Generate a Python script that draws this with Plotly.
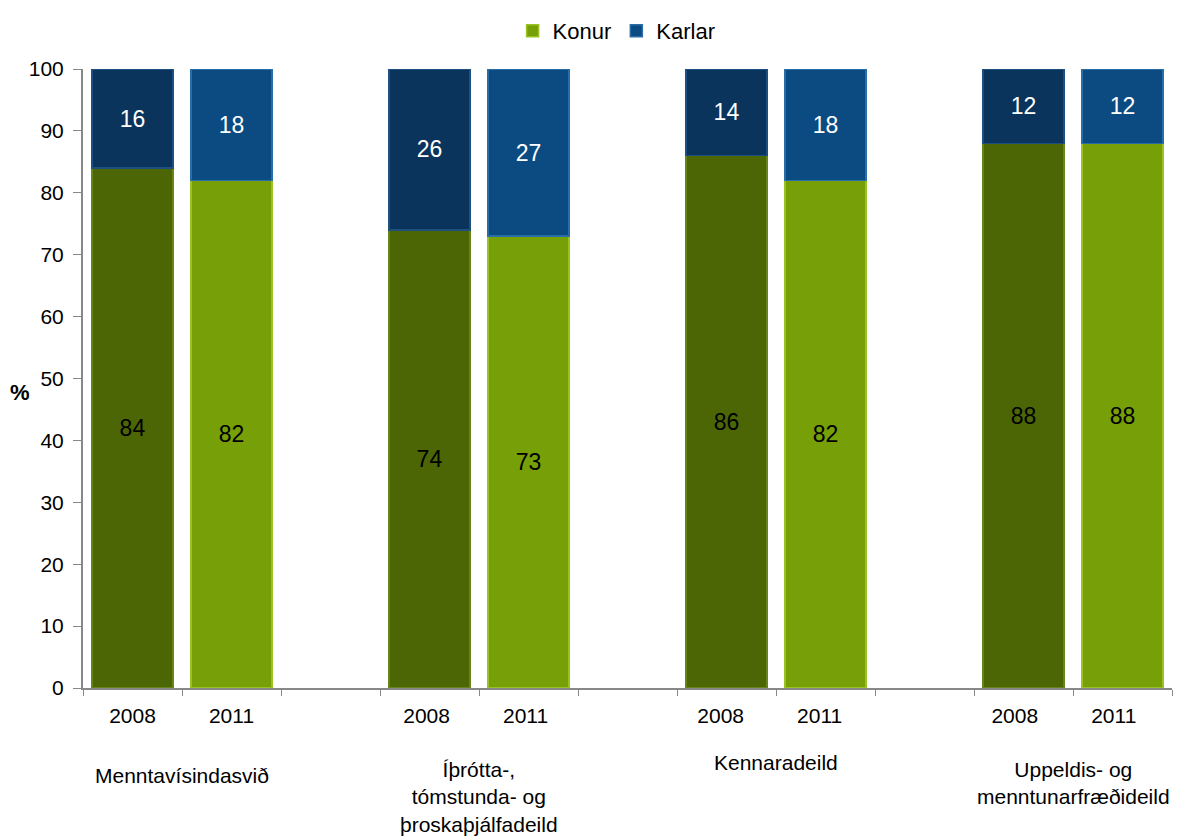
import plotly.graph_objects as go

groups = ["Menntavísindasvið", "Íþrótta-,<br>tómstunda- og<br>þroskaþjálfadeild",
          "Kennaradeild", "Uppeldis- og<br>menntunarfræðideild"]
years = ["2008", "2011"]
konur_2008 = [84, 74, 86, 88]
konur_2011 = [82, 73, 82, 88]
karlar_2008 = [16, 26, 14, 12]
karlar_2011 = [18, 27, 18, 12]
y_ticks = [0, 10, 20, 30, 40, 50, 60, 70, 80, 90, 100]

FONT = "Liberation Sans Narrow, Arial Narrow, Liberation Sans, Arial, sans-serif"

# Build categories: per group, two year bars then a blank gap (except after last)
categories = []
x08, x11 = [], []
for gi, g in enumerate(groups):
    c08 = years[0] + " " * gi
    c11 = years[1] + " " * gi
    categories += [c08, c11]
    x08.append(c08)
    x11.append(c11)
    if gi < len(groups) - 1:
        categories.append("\u00a0" * (gi + 1))

col = {
    ("K", 0): "#4c6606", ("K", 1): "#779f07",
    ("M", 0): "#0a345c", ("M", 1): "#0b4b82",
}
line_col = {
    ("K", 0): "#65841a", ("K", 1): "#98c322",
    ("M", 0): "#1d4f80", ("M", 1): "#2a6ea9",
}

fig = go.Figure()

def add(xs, ys, key, name, show, txtcol):
    fig.add_trace(go.Bar(
        x=xs, y=ys, name=name, showlegend=show, legendgroup=name,
        marker=dict(color=col[key], line=dict(color=line_col[key], width=1.5)),
        text=ys, texttemplate="%{y}", textposition="inside",
        insidetextanchor="middle",
        textfont=dict(family=FONT, size=23, color=txtcol),
        constraintext="none",
    ))

add(x08, konur_2008, ("K", 0), "Konur", False, "black")
add(x11, konur_2011, ("K", 1), "Konur", True, "black")
add(x08, karlar_2008, ("M", 0), "Karlar", False, "white")
add(x11, karlar_2011, ("M", 1), "Karlar", True, "white")

L, R, T, B = 83, 8, 69, 152
W, H = 1180, 840
plot_w = W - L - R

annotations = []
label_y = [775, 797, 763, 783]  # pixel centers
for gi, g in enumerate(groups):
    xpos = gi * 3 + 0.5
    annotations.append(dict(
        x=xpos, xref="x", y=1 - (label_y[gi] - T) / (H - T - B), yref="paper",
        text=g, showarrow=False, xanchor="center", yanchor="middle",
        font=dict(family=FONT, size=21, color="black"), align="center",
    ))
annotations.append(dict(
    x=(20 - L) / plot_w, xref="paper", y=(688 - 392) / (688 - 69), yref="paper",
    text="<b>%</b>", showarrow=False, xanchor="center", yanchor="middle",
    font=dict(family=FONT, size=22, color="black"),
))

fig.update_layout(
    width=W, height=H,
    margin=dict(l=L, r=R, t=T, b=B, autoexpand=False),
    barmode="stack", bargap=0.18,
    plot_bgcolor="white", paper_bgcolor="white",
    font=dict(family=FONT, size=21, color="black"),
    legend=dict(orientation="h", x=0.49, xanchor="center", y=1 - 10 / 840, yref="container",
                yanchor="top", font=dict(family=FONT, size=22),
                itemwidth=30, traceorder="normal", bgcolor="rgba(0,0,0,0)"),
    xaxis=dict(type="category", categoryorder="array", categoryarray=categories,
               tickson="boundaries", ticks="outside", ticklen=6, tickcolor="#888888",
               showline=True, linecolor="#888888", linewidth=2, showgrid=False,
               ticklabelstandoff=8,
               tickfont=dict(family=FONT, size=21), range=[-0.5, len(categories) - 0.5]),
    yaxis=dict(range=[0, 100], tickvals=y_ticks, ticks="outside", ticklen=8,
               tickcolor="#888888", showline=True, linecolor="#888888", linewidth=2,
               ticklabelstandoff=5,
               showgrid=False, zeroline=False, tickfont=dict(family=FONT, size=21)),
    annotations=annotations,
)

fig.write_html("out.html")
